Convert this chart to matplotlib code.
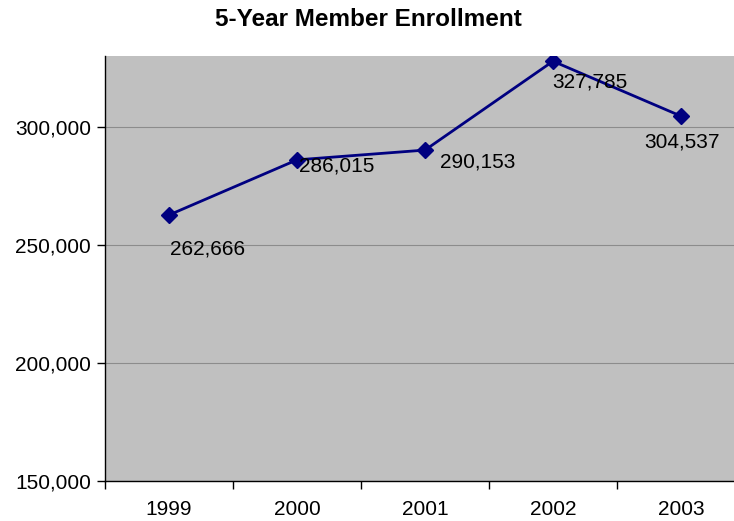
import matplotlib
matplotlib.use("Agg")
import matplotlib.pyplot as plt

years = ["1999", "2000", "2001", "2002", "2003"]
members = [262666, 286015, 290153, 327785, 304537]
# label offsets in pixels (dx, dy) relative to each point
label_offsets = [(39, -34), (40, -6), (53, -12), (37, -21), (1, -26)]

plt.rcParams["font.family"] = ["Liberation Sans", "DejaVu Sans"]

fig = plt.figure(figsize=(7.34, 5.21), dpi=100)
# plot area runs past the right edge of the picture, as in the original
ax = fig.add_axes([105 / 734, 40 / 521, 640 / 734, 425 / 521])
ax.set_facecolor("#C0C0C0")

x = list(range(len(years)))
ax.plot(x, members, color="#000080", linewidth=2, marker="D", markersize=8,
        markerfacecolor="#000080", markeredgecolor="#000080", zorder=3)

for xi, v, (dx, dy) in zip(x, members, label_offsets):
    ax.annotate(f"{v:,}", (xi, v), xytext=(dx, dy), textcoords="offset pixels",
                ha="center", va="center", fontsize=15, color="black", zorder=4)

ax.set_xlim(-0.5, len(years) - 0.5)
ax.set_ylim(150000, 330000)
ax.set_yticks([150000, 200000, 250000, 300000])
ax.set_yticklabels([f"{t:,}" for t in [150000, 200000, 250000, 300000]], fontsize=15)
ax.set_xticks(x)
ax.set_xticklabels(years, fontsize=15)
ax.set_xticks([i - 0.5 for i in range(len(years) + 1)], minor=True)
ax.tick_params(axis="x", which="major", length=0, pad=14)
ax.tick_params(axis="x", which="minor", length=6, width=1, direction="out")
ax.tick_params(axis="y", length=6, width=1, direction="out", pad=4)

ax.grid(axis="y", color="#8C8C8C", linewidth=0.8)
ax.set_axisbelow(True)
for side in ["top", "right"]:
    ax.spines[side].set_visible(False)
for side in ["left", "bottom"]:
    ax.spines[side].set_color("black")
    ax.spines[side].set_linewidth(1)

fig.text(368 / 734, 1 - 19 / 521, "5-Year Member Enrollment", ha="center",
         va="center", fontsize=17.5, fontweight="bold")

fig.savefig("out.png", dpi=100)
